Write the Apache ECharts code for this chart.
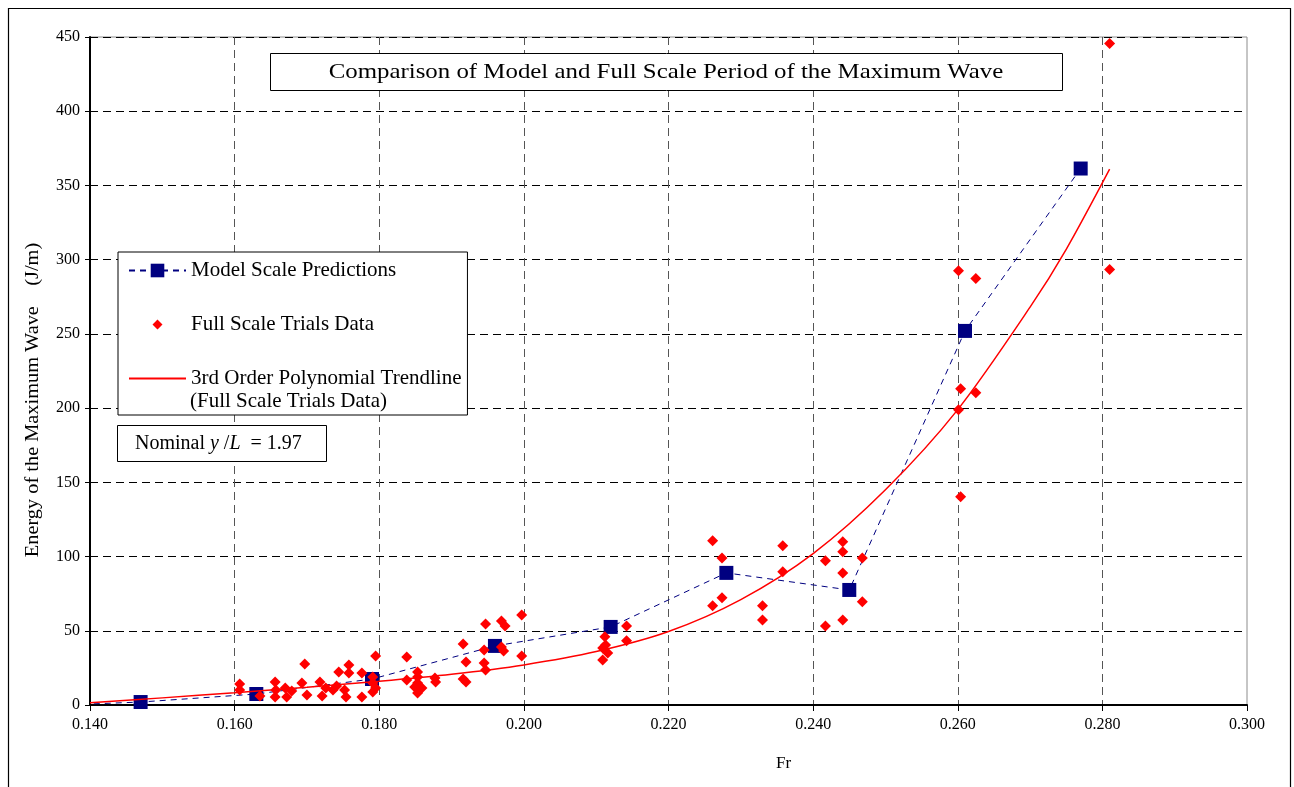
<!DOCTYPE html>
<html>
<head>
<meta charset="utf-8">
<title>Comparison of Model and Full Scale Period of the Maximum Wave</title>
<script src="https://cdn.jsdelivr.net/npm/echarts@6/dist/echarts.min.js"></script>
<style>
  html, body { margin: 0; padding: 0; background: #fff; }
  #graph { width: 1294px; height: 787px; }
</style>
</head>
<body>
<div id="graph"></div>
<script>
// Model scale predictions (first point is only the lead-in of the dashed line)
const modelFr = [0.139, 0.147, 0.163, 0.179, 0.196, 0.212, 0.228, 0.245, 0.261, 0.277];
const modelEnergy = [0.5, 2, 7.4, 17.5, 39.8, 52.6, 89, 77.5, 252, 361.4];

// Full scale trials data
const trialsFr = [
  0.1607, 0.1607, 0.1635, 0.1656, 0.1657, 0.1656, 0.1670, 0.1672, 0.1679, 0.1693,
  0.1697, 0.1700, 0.1718, 0.1721, 0.1726, 0.1736, 0.1741, 0.1744, 0.1752, 0.1754,
  0.1758, 0.1758, 0.1776, 0.1776, 0.1791, 0.1791, 0.1791, 0.1795, 0.1795, 0.1838,
  0.1838, 0.1849, 0.1853, 0.1853, 0.1853, 0.1853, 0.1859, 0.1877, 0.1878, 0.1916,
  0.1920, 0.1916, 0.1920, 0.1945, 0.1945, 0.1947, 0.1947, 0.1969, 0.1974, 0.1969,
  0.1972, 0.1997, 0.1997, 0.2109, 0.2109, 0.2112, 0.2113, 0.2116, 0.2142, 0.2142,
  0.2261, 0.2274, 0.2274, 0.2261, 0.2358, 0.2358, 0.2330, 0.2330, 0.2417, 0.2417,
  0.2441, 0.2441, 0.2441, 0.2441, 0.2468, 0.2468, 0.2601, 0.2625, 0.2604, 0.2625,
  0.2601, 0.2604, 0.2810, 0.2810
];
const trialsEnergy = [
  14.2, 10.1, 6.1, 15.5, 10.1, 5.4, 11.5, 5.4, 9.4, 14.8,
  27.6, 6.7, 15.5, 6.1, 11.5, 10.1, 12.8, 22.3, 10.1, 5.4,
  27.0, 21.6, 21.6, 5.4, 18.9, 14.8, 8.8, 33.0, 11.5, 32.4,
  16.9, 12.1, 22.3, 18.9, 14.8, 8.1, 11.5, 18.2, 15.5, 41.1,
  29.0, 17.5, 15.5, 37.1, 28.3, 23.6, 54.6, 56.6, 53.3, 39.1,
  36.4, 60.7, 33.0, 30.3, 38.4, 45.9, 40.5, 35.1, 53.3, 43.2,
  110.6, 99.1, 72.2, 66.8, 107.2, 89.7, 66.8, 57.3, 97.1, 53.3,
  109.9, 103.2, 89.0, 57.3, 99.1, 69.5, 292.6, 287.3, 213.1, 210.4,
  198.9, 140.3, 293.3, 445.7
];

// 3rd order polynomial trendline
const trendFr = [0.140, 0.150, 0.160, 0.170, 0.180, 0.190, 0.200, 0.210, 0.220, 0.230, 0.240, 0.250, 0.260, 0.270, 0.275, 0.281];
const trendEnergy = [1.5, 4.8, 8.3, 12, 16, 20.7, 27, 36, 49.5, 71, 102, 145, 199, 268, 307, 361];

const serif = 'Liberation Serif';

let myChart = echarts.init(document.getElementById('graph'));

let modelData = modelFr.map(function (x, i) {
  let item = { value: [x, modelEnergy[i]] };
  if (i === 0) item.symbol = 'none';
  return item;
});
let trialsData = trialsFr.map(function (x, i) { return [x, trialsEnergy[i]]; });
let trendData = trendFr.map(function (x, i) { return [x, trendEnergy[i]]; });

// small diamond centred in a 57x17 legend box (the two tiny strokes only fix the bounds)
const smallDiamond = 'path://M0,0L0.01,0M23.5,8.5L28.5,3.5L33.5,8.5L28.5,13.5ZM57,17L56.99,17';

let option = {
  backgroundColor: '#fff',
  animation: false,
  textStyle: { fontFamily: serif, color: '#000' },
  grid: {
    left: 90, right: 47, top: 37, bottom: 82,
    show: true, borderColor: '#8c8c8c', borderWidth: 1, backgroundColor: '#fff'
  },
  legend: {
    orient: 'vertical',
    left: 118, top: 252,
    padding: [7, 6, 25, 10],
    itemGap: 31,
    itemWidth: 57,
    itemHeight: 17,
    backgroundColor: '#fff',
    borderColor: '#000',
    borderWidth: 1,
    textStyle: { fontFamily: serif, fontSize: 21, lineHeight: 23, color: '#000' },
    data: [
      { name: 'Model Scale Predictions' },
      { name: 'Full Scale Trials Data', icon: smallDiamond },
      { name: '3rd Order Polynomial Trendline', itemStyle: { opacity: 0 } }
    ]
  },
  xAxis: {
    type: 'value',
    min: 0.14, max: 0.30, interval: 0.02,
    name: 'Fr',
    nameLocation: 'middle',
    nameGap: 50,
    nameTextStyle: { fontFamily: serif, fontSize: 17, color: '#000', padding: [0, 0, 0, 230] },
    axisLine: { onZero: false, lineStyle: { color: '#000', width: 2 } },
    axisTick: { show: true, length: 6, lineStyle: { color: '#000' } },
    axisLabel: {
      fontFamily: serif, fontSize: 16, color: '#000', margin: 12,
      formatter: function (v) { return v.toFixed(3); }
    },
    splitLine: {
      show: true, showMinLine: false, showMaxLine: false,
      lineStyle: { color: '#555', type: [8, 5], width: 1 }
    }
  },
  yAxis: {
    type: 'value',
    min: 0, max: 450, interval: 50,
    axisLine: { show: true, lineStyle: { color: '#000', width: 2 } },
    axisTick: { show: true, length: 5, lineStyle: { color: '#000' } },
    axisLabel: { fontFamily: serif, fontSize: 16, color: '#000', margin: 10 },
    splitLine: {
      show: true, showMinLine: false,
      lineStyle: { color: '#000', type: [8, 5], width: 1 }
    }
  },
  series: [
    {
      name: 'Model Scale Predictions',
      type: 'line',
      data: modelData,
      clip: false,
      symbol: 'rect',
      symbolSize: 14,
      itemStyle: { color: '#000080' },
      lineStyle: { color: '#000080', width: 1, type: [6, 5] },
      z: 3
    },
    {
      name: 'Full Scale Trials Data',
      type: 'scatter',
      data: trialsData,
      symbol: 'diamond',
      symbolSize: 11,
      itemStyle: { color: '#ff0000', opacity: 1 },
      z: 4
    },
    {
      name: '3rd Order Polynomial Trendline',
      type: 'line',
      data: trendData,
      smooth: 0.3,
      symbol: 'none',
      itemStyle: { color: '#ff0000' },
      lineStyle: { color: '#ff0000', width: 1.5 },
      z: 5
    }
  ],
  graphic: [
    // outer chart frame
    {
      type: 'rect', left: 6, top: 6, silent: true, z: 100,
      shape: { x: 0.5, y: 0.5, width: 1282, height: 800 },
      style: { fill: 'none', stroke: '#000', lineWidth: 1.2 }
    },
    // title box
    {
      type: 'rect', left: 270, top: 53, z: 100,
      shape: { x: 0.5, y: 0.5, width: 792, height: 37 },
      style: { fill: '#fff', stroke: '#000', lineWidth: 1 }
    },
    {
      type: 'text', x: 666, y: 72, z: 101, scaleX: 1.13,
      style: {
        text: 'Comparison of Model and Full Scale Period of the Maximum Wave',
        fontFamily: serif, fontSize: 22, fill: '#000',
        align: 'center', verticalAlign: 'middle'
      }
    },
    // y axis title, drawn a little wider like the original
    {
      type: 'text', x: 33, y: 400, rotation: Math.PI / 2, scaleX: 1.13, z: 101,
      style: {
        text: 'Energy of the Maximum Wave    (J/m)',
        fontFamily: serif, fontSize: 18, fill: '#000',
        align: 'center', verticalAlign: 'middle'
      }
    },
    // second line of the trendline legend entry
    {
      type: 'text', left: 190, top: 391, z: 120,
      style: {
        text: '(Full Scale Trials Data)',
        fontFamily: serif, fontSize: 21, fill: '#000'
      }
    },
    // nominal y/L box
    {
      type: 'rect', left: 117, top: 425, z: 100,
      shape: { x: 0.5, y: 0.5, width: 209, height: 36 },
      style: { fill: '#fff', stroke: '#000', lineWidth: 1 }
    },
    {
      type: 'text', x: 135, y: 444, z: 101,
      style: {
        text: 'Nominal {i|y} /{i|L}  = 1.97',
        fontFamily: serif, fontSize: 20, fill: '#000',
        verticalAlign: 'middle',
        rich: {
          i: { fontFamily: serif, fontSize: 20, fontStyle: 'italic', fill: '#000' }
        }
      }
    }
  ]
};

myChart.setOption(option);
</script>
</body>
</html>
